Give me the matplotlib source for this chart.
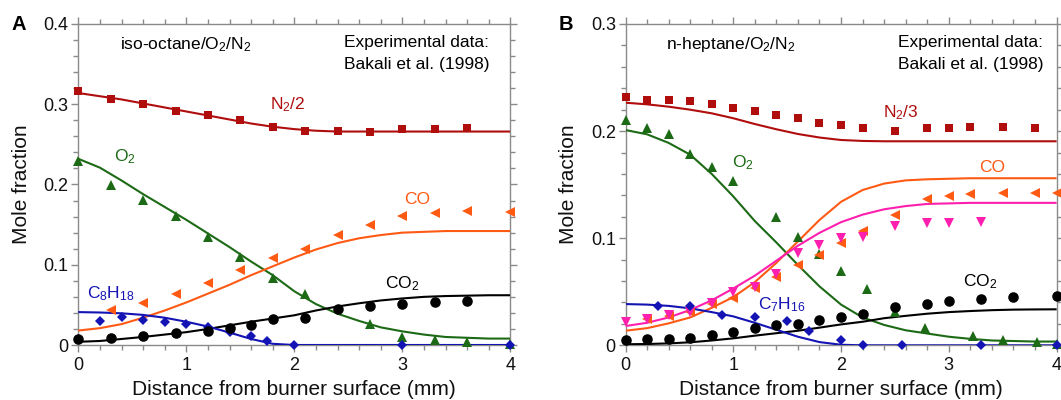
import numpy as np
import matplotlib
matplotlib.use("Agg")
import matplotlib.pyplot as plt
from matplotlib.ticker import MultipleLocator, FuncFormatter

plt.rcParams['font.family'] = ['Liberation Sans', 'DejaVu Sans']
plt.rcParams['mathtext.fontset'] = 'custom'
plt.rcParams['mathtext.rm'] = 'Liberation Sans'
plt.rcParams['mathtext.it'] = 'Liberation Sans:italic'
plt.rcParams['mathtext.bf'] = 'Liberation Sans:bold'
plt.rcParams['mathtext.default'] = 'regular'

# ---------------- data: model grid ----------------
x_model = [0.0, 0.2, 0.4, 0.6, 0.8, 1.0, 1.2, 1.4, 1.6, 1.8, 2.0,
           2.2, 2.4, 2.6, 2.8, 3.0, 3.2, 3.4, 3.6, 3.8, 4.0]

# ---------------- Panel A: iso-octane ----------------
a_n2_x = [0.0, 0.3, 0.6, 0.9, 1.2, 1.5, 1.8, 2.1, 2.4, 2.7, 3.0, 3.3, 3.6]
a_n2_y = [0.316, 0.307, 0.300, 0.292, 0.286, 0.280, 0.272, 0.267, 0.267, 0.266, 0.269, 0.269, 0.271]
a_o2_x = [0.0, 0.3, 0.6, 0.9, 1.2, 1.5, 1.8, 2.1, 2.7, 3.0, 3.3, 3.6, 4.0]
a_o2_y = [0.229, 0.200, 0.181, 0.161, 0.135, 0.110, 0.084, 0.064, 0.026, 0.010, 0.006, 0.004, 0.001]
a_co_x = [0.3, 0.6, 0.9, 1.2, 1.5, 1.8, 2.1, 2.4, 2.7, 3.0, 3.3, 3.6, 4.0]
a_co_y = [0.043, 0.052, 0.063, 0.077, 0.093, 0.108, 0.120, 0.137, 0.150, 0.161, 0.164, 0.167, 0.166]
a_co2_x = [0.0, 0.3, 0.6, 0.9, 1.2, 1.4, 1.6, 1.8, 2.1, 2.4, 2.7, 3.0, 3.3, 3.6]
a_co2_y = [0.007, 0.009, 0.011, 0.0145, 0.018, 0.0216, 0.025, 0.033, 0.034, 0.0445, 0.049, 0.051, 0.053, 0.055]
a_fuel_x = [0.2, 0.4, 0.6, 0.8, 1.0, 1.2, 1.4, 1.6, 1.75, 2.0, 3.0, 4.0]
a_fuel_y = [0.030, 0.0345, 0.031, 0.029, 0.026, 0.022, 0.016, 0.011, 0.005, 0.0, 0.0, 0.0]

a_n2_model = [0.314, 0.310, 0.306, 0.301, 0.296, 0.291, 0.286, 0.281, 0.276, 0.272, 0.269,
              0.267, 0.266, 0.266, 0.266, 0.266, 0.266, 0.266, 0.266, 0.266, 0.266]
a_o2_model = [0.232, 0.221, 0.205, 0.188, 0.172, 0.156, 0.139, 0.122, 0.104, 0.087, 0.067,
              0.051, 0.039, 0.030, 0.022, 0.017, 0.013, 0.010, 0.009, 0.008, 0.008]
a_co_model = [0.018, 0.021, 0.026, 0.034, 0.043, 0.053, 0.064, 0.075, 0.087, 0.098, 0.109,
              0.119, 0.127, 0.133, 0.137, 0.140, 0.141, 0.142, 0.142, 0.142, 0.142]
a_co2_model = [0.004, 0.005, 0.0075, 0.010, 0.013, 0.016, 0.020, 0.0245, 0.029, 0.033, 0.037,
               0.043, 0.048, 0.052, 0.0555, 0.058, 0.060, 0.061, 0.0615, 0.062, 0.062]
a_fuel_model = [0.041, 0.0405, 0.0395, 0.0375, 0.034, 0.029, 0.023, 0.0155, 0.0075, 0.0015, 0.0,
                0.0, 0.0, 0.0, 0.0, 0.0, 0.0, 0.0, 0.0, 0.0, 0.0]

# ---------------- Panel B: n-heptane ----------------
b_n2_x = [0.0, 0.2, 0.4, 0.6, 0.8, 1.0, 1.2, 1.4, 1.6, 1.8, 2.0, 2.2, 2.5, 2.8, 3.0, 3.2, 3.5, 3.8]
b_n2_y = [0.232, 0.229, 0.229, 0.228, 0.225, 0.222, 0.219, 0.215, 0.212, 0.208, 0.206, 0.203,
          0.200, 0.203, 0.203, 0.204, 0.2035, 0.203]
b_o2_x = [0.0, 0.2, 0.4, 0.6, 0.8, 1.0, 1.4, 1.6, 1.8, 2.0, 2.24, 2.5, 2.78, 3.22, 3.5, 3.82, 4.0]
b_o2_y = [0.210, 0.2026, 0.197, 0.1786, 0.1665, 0.1534, 0.120, 0.101, 0.085, 0.069, 0.053,
          0.031, 0.0165, 0.0087, 0.0045, 0.0035, 0.001]
b_co_x = [0.2, 0.4, 0.6, 0.8, 1.0, 1.2, 1.4, 1.6, 1.8, 2.0, 2.2, 2.5, 2.8, 3.0, 3.2, 3.5, 3.8, 4.0]
b_co_y = [0.0243, 0.0274, 0.0314, 0.0386, 0.0439, 0.0532, 0.064, 0.075, 0.0843, 0.0958, 0.107,
          0.1217, 0.137, 0.1394, 0.141, 0.142, 0.142, 0.142]
b_pink_x = [0.0, 0.2, 0.4, 0.6, 0.8, 1.0, 1.2, 1.4, 1.6, 1.8, 2.0, 2.2, 2.5, 2.8, 3.0, 3.3]
b_pink_y = [0.022, 0.0243, 0.0283, 0.0314, 0.0398, 0.050, 0.0547, 0.0666, 0.0859, 0.0936, 0.0999,
            0.1014, 0.1117, 0.1139, 0.1145, 0.1154]
b_co2_x = [0.0, 0.2, 0.4, 0.6, 0.8, 1.0, 1.2, 1.4, 1.6, 1.8, 2.0, 2.2, 2.5, 2.8, 3.0, 3.3, 3.6, 4.0]
b_co2_y = [0.005, 0.0056, 0.0062, 0.0071, 0.0096, 0.0127, 0.0159, 0.019, 0.0199, 0.0236, 0.0261,
           0.0292, 0.036, 0.039, 0.0416, 0.0435, 0.0454, 0.0463]
b_fuel_x = [0.3, 0.6, 0.9, 1.2, 1.5, 1.7, 2.0, 2.2, 2.57, 3.3, 4.0]
b_fuel_y = [0.0365, 0.0365, 0.028, 0.026, 0.023, 0.0136, 0.005, 0.0, 0.0, 0.0, 0.0]

b_n2_model = [0.2265, 0.225, 0.2228, 0.220, 0.2166, 0.212, 0.2066, 0.2017, 0.1973, 0.194, 0.1917,
              0.1908, 0.1905, 0.1905, 0.1905, 0.1905, 0.1905, 0.1905, 0.1905, 0.1905, 0.1905]
b_o2_model = [0.201, 0.197, 0.189, 0.178, 0.160, 0.139, 0.116, 0.096, 0.075, 0.055, 0.038,
              0.026, 0.019, 0.014, 0.011, 0.008, 0.006, 0.0045, 0.004, 0.0035, 0.0035]
b_co_model = [0.0136, 0.016, 0.0205, 0.026, 0.035, 0.045, 0.059, 0.077, 0.097, 0.117, 0.134,
              0.145, 0.151, 0.154, 0.155, 0.1555, 0.156, 0.156, 0.156, 0.156, 0.156]
b_pink_model = [0.018, 0.021, 0.026, 0.033, 0.042, 0.053, 0.065, 0.079, 0.093, 0.105, 0.115,
                0.122, 0.127, 0.130, 0.132, 0.1325, 0.133, 0.133, 0.133, 0.133, 0.133]
b_co2_model = [0.001, 0.0012, 0.0018, 0.0028, 0.0045, 0.0065, 0.009, 0.0113, 0.0136, 0.0165, 0.0195,
               0.022, 0.0253, 0.0275, 0.0295, 0.031, 0.032, 0.0328, 0.0333, 0.0335, 0.0336]
b_fuel_model = [0.0385, 0.038, 0.0368, 0.0345, 0.031, 0.027, 0.021, 0.0145, 0.008, 0.003, 0.0005,
                0.0, 0.0, 0.0, 0.0, 0.0, 0.0, 0.0, 0.0, 0.0, 0.0]

# ---------------- styles ----------------
C_N2 = '#b00d0d'
C_O2 = '#1d6a16'
C_CO = '#ff5a14'
C_CO2 = '#000000'
C_FUEL = '#1414b4'
C_PINK = '#ff1fae'
SPINE = '#8a8a8a'
LW = 1.5

W, H = 1061, 400
fig = plt.figure(figsize=(W / 100, H / 100), dpi=100)
axA = fig.add_axes([78.3 / W, 1 - 345.0 / H, 432.0 / W, 321.0 / H])
axB = fig.add_axes([625.5 / W, 1 - 345.3 / H, 431.1 / W, 321.3 / H])


def style_axis(ax, ymax):
    ax.set_xlim(0, 4)
    ax.set_ylim(0, ymax)
    ax.xaxis.set_major_locator(MultipleLocator(1))
    ax.xaxis.set_minor_locator(MultipleLocator(0.2))
    ax.yaxis.set_major_locator(MultipleLocator(0.1))
    ax.yaxis.set_minor_locator(MultipleLocator(0.02))
    ax.yaxis.set_major_formatter(FuncFormatter(lambda v, p: '%g' % round(v, 3)))
    for s in ax.spines.values():
        s.set_color(SPINE)
        s.set_linewidth(1.0)
    ax.tick_params(which='both', direction='out', top=True, right=True,
                   color=SPINE, width=1.0, labelsize=13, labelcolor='#111111')
    ax.tick_params(which='major', length=5)
    ax.tick_params(which='minor', length=3.5)
    ax.tick_params(axis='y', pad=2)
    ax.tick_params(axis='x', pad=3.5)
    ax.set_xlabel('Distance from burner surface (mm)', fontsize=15, color='#111111')
    ax.set_ylabel('Mole fraction', fontsize=15, color='#111111')
    ax.xaxis.set_label_coords(0.5, -0.108)
    ax.yaxis.set_label_coords(-0.11, 0.5)


def draw(ax, xs, ys, color, marker, ms):
    ax.plot(xs, ys, linestyle='none', marker=marker, ms=ms, color=color,
            markeredgewidth=0, clip_on=False, zorder=4)


def model(ax, ys, color):
    ax.plot(x_model, ys, color=color, lw=LW, zorder=3, solid_capstyle='butt')


# Panel A
style_axis(axA, 0.4)
model(axA, a_n2_model, C_N2)
model(axA, a_o2_model, C_O2)
model(axA, a_co_model, C_CO)
model(axA, a_co2_model, C_CO2)
model(axA, a_fuel_model, C_FUEL)
draw(axA, a_n2_x, a_n2_y, C_N2, 's', 5.8)
draw(axA, a_o2_x, a_o2_y, C_O2, '^', 7.2)
draw(axA, a_co_x, a_co_y, C_CO, '<', 7.2)
draw(axA, a_fuel_x, a_fuel_y, C_FUEL, 'D', 5.3)
draw(axA, a_co2_x, a_co2_y, C_CO2, 'o', 7.6)

# Panel B
style_axis(axB, 0.3)
model(axB, b_n2_model, C_N2)
model(axB, b_o2_model, C_O2)
model(axB, b_co_model, C_CO)
model(axB, b_pink_model, C_PINK)
model(axB, b_co2_model, C_CO2)
model(axB, b_fuel_model, C_FUEL)
draw(axB, b_n2_x, b_n2_y, C_N2, 's', 5.8)
draw(axB, b_o2_x, b_o2_y, C_O2, '^', 7.2)
draw(axB, b_co_x, b_co_y, C_CO, '<', 7.2)
draw(axB, b_pink_x, b_pink_y, C_PINK, 'v', 7.2)
draw(axB, b_fuel_x, b_fuel_y, C_FUEL, 'D', 5.3)
draw(axB, b_co2_x, b_co2_y, C_CO2, 'o', 7.6)

# ---------------- annotations (pixel placement converted to figure coords) ----------------
def ftext(px, py, s, **kw):
    fig.text(px / W, 1 - py / H, s, **kw)

ftext(18.6, 25, 'A', fontsize=14.5, fontweight='bold', ha='center', va='center')
ftext(566, 25, 'B', fontsize=14.5, fontweight='bold', ha='center', va='center')

ftext(120, 45, 'iso-octane/O$_2$/N$_2$', fontsize=12.5, ha='left', va='center')
ftext(489, 43, 'Experimental data:', fontsize=12.5, ha='right', va='center')
ftext(489, 65, 'Bakali et al. (1998)', fontsize=12.5, ha='right', va='center')
ftext(288, 105, 'N$_2$/2', fontsize=12.5, color=C_N2, ha='center', va='center')
ftext(125, 157, 'O$_2$', fontsize=12.5, color=C_O2, ha='center', va='center')
ftext(417, 199, 'CO', fontsize=12.5, color=C_CO, ha='center', va='center')
ftext(402, 284, 'CO$_2$', fontsize=12.5, color=C_CO2, ha='center', va='center')
ftext(111, 294, 'C$_8$H$_{18}$', fontsize=12.5, color=C_FUEL, ha='center', va='center')

ftext(665.5, 45, 'n-heptane/O$_2$/N$_2$', fontsize=12.5, ha='left', va='center')
ftext(1043, 43, 'Experimental data:', fontsize=12.5, ha='right', va='center')
ftext(1043, 65, 'Bakali et al. (1998)', fontsize=12.5, ha='right', va='center')
ftext(901, 113, 'N$_2$/3', fontsize=12.5, color=C_N2, ha='center', va='center')
ftext(743, 163, 'O$_2$', fontsize=12.5, color=C_O2, ha='center', va='center')
ftext(992, 168, 'CO', fontsize=12.5, color=C_CO, ha='center', va='center')
ftext(980, 282, 'CO$_2$', fontsize=12.5, color=C_CO2, ha='center', va='center')
ftext(782, 305, 'C$_7$H$_{16}$', fontsize=12.5, color=C_FUEL, ha='center', va='center')

fig.savefig('out.png', dpi=100)
